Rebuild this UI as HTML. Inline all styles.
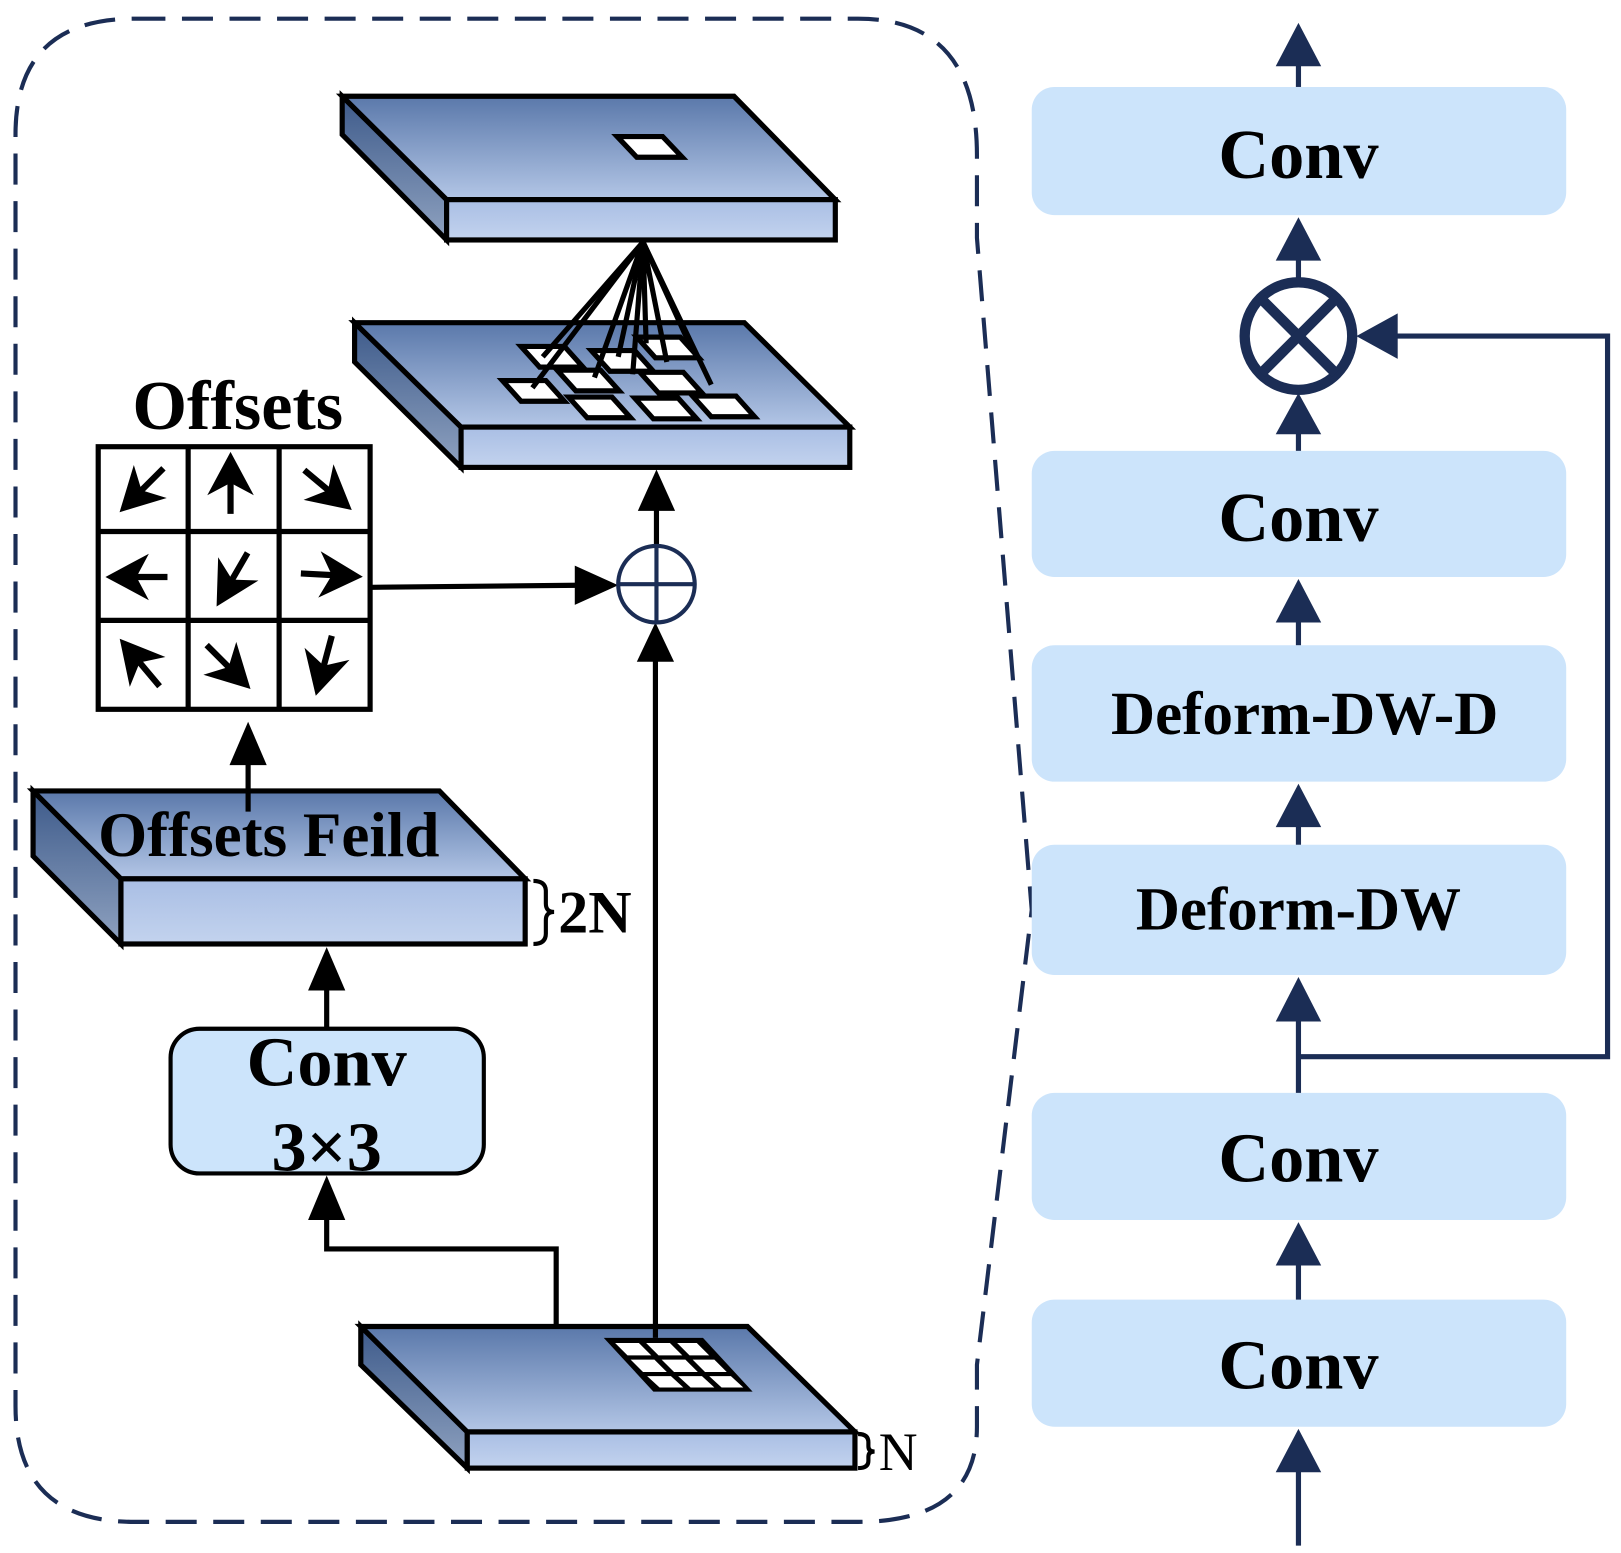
<!DOCTYPE html>
<html><head><meta charset="utf-8"><style>html,body{margin:0;padding:0;background:#fff}svg{display:block}</style></head>
<body>
<svg width="1621" height="1553" viewBox="0 0 1568 1502" xmlns="http://www.w3.org/2000/svg" font-family="'Liberation Serif', serif" font-weight="bold">
<defs>
<linearGradient id="gt" x1="0" y1="0" x2="0" y2="1"><stop offset="0" stop-color="#5a78aa"/><stop offset="1" stop-color="#b3c6e6"/></linearGradient>
<linearGradient id="gf" x1="0" y1="0" x2="0" y2="1"><stop offset="0" stop-color="#a9bee4"/><stop offset="1" stop-color="#c3d3ee"/></linearGradient>
<linearGradient id="gs" x1="0" y1="0" x2="0" y2="1"><stop offset="0" stop-color="#3d5a8a"/><stop offset="1" stop-color="#8fa2c0"/></linearGradient>
<g id="ar"><line x1="-18" y1="0" x2="4" y2="0" stroke="#000" stroke-width="4"/><polygon points="22,0 -6,-15 2,0 -6,15" fill="#000"/></g>
</defs>

<path d="M130 18 L830 18 Q945 18 945 150 L945 230 L998 880 L945 1320 L945 1380 Q945 1472 830 1472 L130 1472 Q15 1472 15 1360 L15 130 Q15 18 130 18 Z" fill="none" stroke="#1b2d55" stroke-width="4" stroke-dasharray="30 16"/>

<g fill="#cce4fb">
<rect x="998" y="84" width="517" height="124" rx="22"/>
<rect x="998" y="436" width="517" height="122" rx="22"/>
<rect x="998" y="624" width="517" height="132" rx="22"/>
<rect x="998" y="817" width="517" height="126" rx="22"/>
<rect x="998" y="1057" width="517" height="123" rx="22"/>
<rect x="998" y="1257" width="517" height="123" rx="22"/>
</g>
<g font-size="68" text-anchor="middle" fill="#000">
<text x="1256" y="172">Conv</text>
<text x="1256" y="523">Conv</text>
<text x="1256" y="1143">Conv</text>
<text x="1256" y="1343">Conv</text>
<text x="1262" y="710" font-size="59">Deform-DW-D</text>
<text x="1256" y="899" font-size="59">Deform-DW</text>
</g>
<g stroke="#1b2d55" stroke-width="5" fill="none">
<line x1="1256" y1="1495" x2="1256" y2="1410"/>
<line x1="1256" y1="1257" x2="1256" y2="1210"/>
<line x1="1256" y1="1057" x2="1256" y2="975"/>
<line x1="1256" y1="817" x2="1256" y2="790"/>
<line x1="1256" y1="624" x2="1256" y2="590"/>
<line x1="1256" y1="436" x2="1256" y2="400"/>
<line x1="1256" y1="273" x2="1256" y2="240"/>
<line x1="1256" y1="84" x2="1256" y2="55"/>
<polyline points="1256,1022 1555,1022 1555,325 1345,325"/>
<circle cx="1256" cy="325" r="52" stroke-width="10"/>
<line x1="1220" y1="289" x2="1292" y2="361" stroke-width="10"/>
<line x1="1292" y1="289" x2="1220" y2="361" stroke-width="10"/>
</g>
<g fill="#1b2d55">
<polygon points="1256,1382 1234,1424 1278,1424"/>
<polygon points="1256,1182 1234,1224 1278,1224"/>
<polygon points="1256,945 1234,988 1278,988"/>
<polygon points="1256,758 1234,800 1278,800"/>
<polygon points="1256,560 1234,602 1278,602"/>
<polygon points="1256,380 1234,420 1278,420"/>
<polygon points="1256,210 1234,252 1278,252"/>
<polygon points="1256,22 1234,64 1278,64"/>
<polygon points="1312,325 1352,303 1352,347"/>
</g>

<g stroke="#000" stroke-width="5" stroke-linejoin="miter">
<polygon points="331,93 432,193 432,232 331,130" fill="url(#gs)"/>
<polygon points="331,93 710,93 808,193 432,193" fill="url(#gt)"/>
<rect x="432" y="193" width="376" height="39" fill="url(#gf)"/>
<polygon points="597,132 641,132 660,152 616,152" fill="#fff"/>
<polygon points="343,312 446,413 446,452 343,350" fill="url(#gs)"/>
<polygon points="343,312 720,312 822,413 446,413" fill="url(#gt)"/>
<rect x="446" y="413" width="376" height="39" fill="url(#gf)"/>
<polygon points="32,765 117,850 117,913 32,828" fill="url(#gs)"/>
<polygon points="32,765 425,765 508,850 117,850" fill="url(#gt)"/>
<rect x="117" y="850" width="391" height="63" fill="url(#gf)"/>
<polygon points="349,1283 452,1385 452,1420 349,1320" fill="url(#gs)"/>
<polygon points="349,1283 723,1283 827,1385 452,1385" fill="url(#gt)"/>
<rect x="452" y="1385" width="375" height="35" fill="url(#gf)"/>
</g>
<g fill="#fff" stroke="#000" stroke-width="5">
<polygon points="504,335 546,335 564,355 522,355"/>
<polygon points="539,358 581,358 599,378 557,378"/>
<polygon points="572,339 614,339 632,359 590,359"/>
<polygon points="616,326 658,326 676,346 634,346"/>
<polygon points="486,368 528,368 546,388 504,388"/>
<polygon points="550,384 592,384 610,404 568,404"/>
<polygon points="619,360 661,360 679,380 637,380"/>
<polygon points="614,385 656,385 674,405 632,405"/>
<polygon points="670,383 712,383 730,403 688,403"/>
</g>
<g stroke="#000" stroke-width="5">
<line x1="622" y1="234" x2="525" y2="345"/>
<line x1="622" y1="234" x2="515" y2="375"/>
<line x1="622" y1="234" x2="575" y2="365"/>
<line x1="622" y1="234" x2="598" y2="345"/>
<line x1="622" y1="234" x2="612" y2="362"/>
<line x1="622" y1="234" x2="625" y2="332"/>
<line x1="622" y1="234" x2="645" y2="350"/>
<line x1="622" y1="234" x2="668" y2="335"/>
<line x1="622" y1="234" x2="688" y2="372"/>
</g>
<polygon points="584,1294 680,1294 728,1346 632,1346" fill="#000"/>
<g fill="#fff">
<polygon points="595,1299 618,1299 630,1311 607,1311"/>
<polygon points="625,1299 648,1299 660,1311 637,1311"/>
<polygon points="655,1299 674,1299 686,1311 667,1311"/>
<polygon points="610,1315 633,1315 645,1327 622,1327"/>
<polygon points="640,1315 663,1315 675,1327 652,1327"/>
<polygon points="670,1315 691,1315 703,1327 682,1327"/>
<polygon points="626,1331 649,1331 661,1342 638,1342"/>
<polygon points="656,1331 679,1331 691,1342 668,1342"/>
<polygon points="686,1331 707,1331 719,1342 698,1342"/>
</g>

<g stroke="#000" stroke-width="4" fill="none">
<path d="M516 852 Q528 852 528 862 L528 874 Q528 882 536 882 Q528 882 528 890 L528 903 Q528 913 516 913"/>
<path d="M830 1387 Q840 1387 840 1395 L840 1399 Q840 1404 846 1404 Q840 1404 840 1409 L840 1413 Q840 1420 830 1420"/>
</g>
<text x="540" y="902" font-size="58" font-weight="bold">2N</text>
<text x="850" y="1422" font-size="52" font-weight="normal">N</text>

<text x="230" y="415" font-size="68" text-anchor="middle">Offsets</text>
<g stroke="#000" stroke-width="5" fill="#fff">
<rect x="95" y="432" width="263" height="254"/>
<line x1="182" y1="432" x2="182" y2="686"/>
<line x1="270" y1="432" x2="270" y2="686"/>
<line x1="95" y1="514" x2="358" y2="514"/>
<line x1="95" y1="600" x2="358" y2="600"/>
</g>
<use href="#ar" transform="translate(139,472) rotate(135) scale(1.5)"/>
<use href="#ar" transform="translate(223,470) rotate(-90) scale(1.5)"/>
<use href="#ar" transform="translate(315,472) rotate(40) scale(1.5)"/>
<use href="#ar" transform="translate(135,558) rotate(180) scale(1.5)"/>
<use href="#ar" transform="translate(226,558) rotate(120) scale(1.5)"/>
<use href="#ar" transform="translate(318,556) rotate(3) scale(1.5)"/>
<use href="#ar" transform="translate(137,643) rotate(-130) scale(1.5)"/>
<use href="#ar" transform="translate(219,643) rotate(45) scale(1.5)"/>
<use href="#ar" transform="translate(314,641) rotate(105) scale(1.5)"/>

<text x="260" y="828" font-size="61" text-anchor="middle">Offsets Feild</text>

<rect x="165" y="995" width="303" height="140" rx="28" fill="#cce4fb" stroke="#000" stroke-width="4"/>
<text x="316" y="1050" font-size="68" text-anchor="middle">Conv</text>
<text x="316" y="1132" font-size="68" text-anchor="middle">3×3</text>

<g stroke="#000" stroke-width="5" fill="none">
<line x1="240" y1="785" x2="240" y2="735"/>
<line x1="316" y1="995" x2="316" y2="955"/>
<polyline points="538,1283 538,1208 316,1208 316,1175"/>
<line x1="634" y1="1294" x2="634" y2="636"/>
<line x1="635" y1="528" x2="635" y2="490"/>
<line x1="360" y1="568" x2="560" y2="566"/>
</g>
<g fill="#000">
<polygon points="240,698 222,740 258,740"/>
<polygon points="316,916 298,958 334,958"/>
<polygon points="316,1137 298,1180 334,1180"/>
<polygon points="634,602 616,640 652,640"/>
<polygon points="635,454 617,494 653,494"/>
<polygon points="598,566 556,547 556,585"/>
</g>
<g stroke="#1b2d55" stroke-width="4" fill="none">
<circle cx="635" cy="565" r="37"/>
<line x1="598" y1="565" x2="672" y2="565"/>
<line x1="635" y1="528" x2="635" y2="602"/>
</g>
</svg>
</body></html>
